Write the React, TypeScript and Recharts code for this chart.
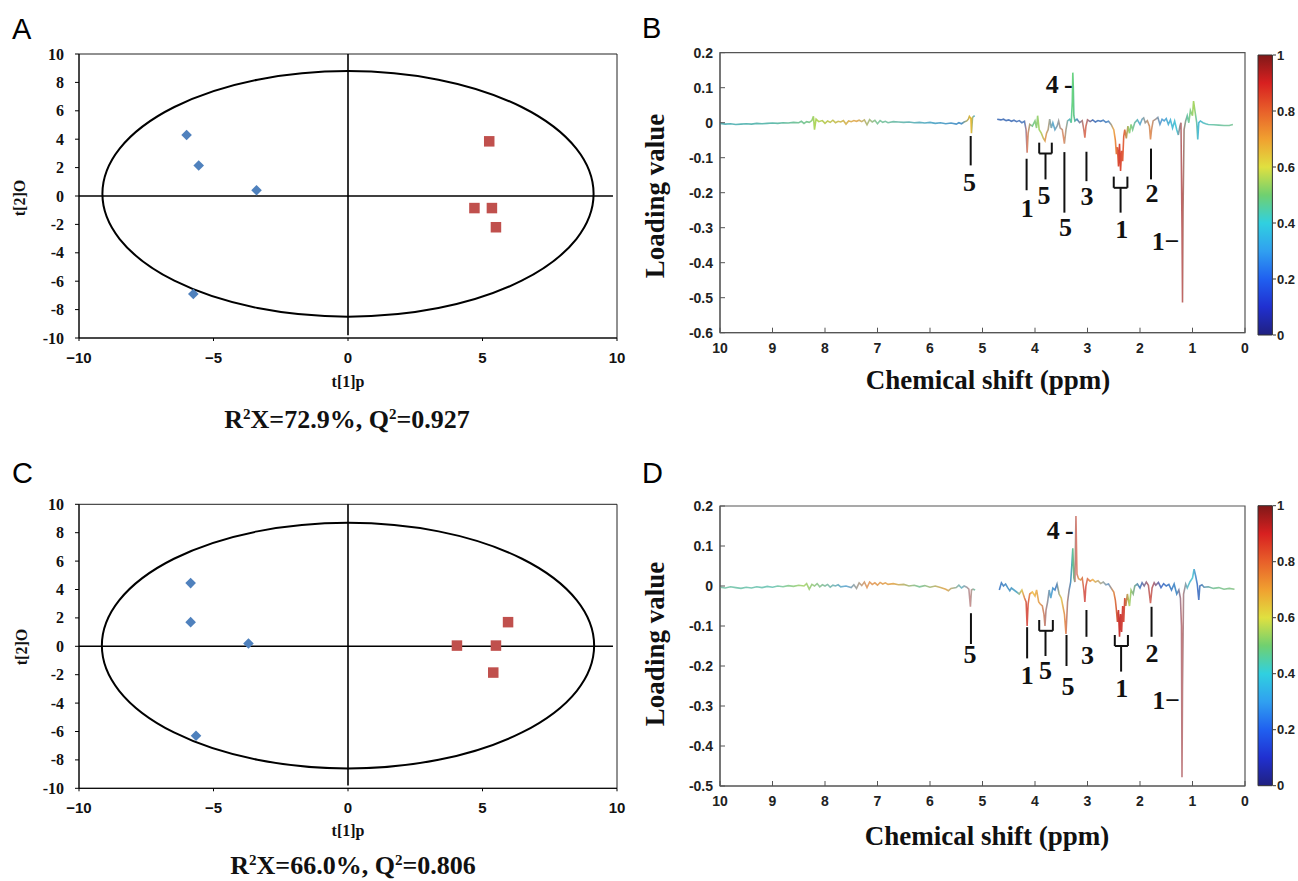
import React from 'react';
import { ComposedChart, Scatter, Line, Bar, XAxis, YAxis, ReferenceLine, ReferenceArea } from 'recharts';

const SERIF = '"Liberation Serif", "Times New Roman", serif';
const SANS = '"Liberation Sans", Arial, sans-serif';

// ---------- OPLS-DA score plots ----------
const scoresA_ctrl = [
  { x: -6.0, y: 4.3 }, { x: -5.55, y: 2.15 }, { x: -3.4, y: 0.4 }, { x: -5.75, y: -6.9 },
];
const scoresA_case = [
  { x: 5.25, y: 3.85 }, { x: 4.7, y: -0.85 }, { x: 5.35, y: -0.85 }, { x: 5.5, y: -2.2 },
];
const scoresC_ctrl = [
  { x: -5.85, y: 4.45 }, { x: -5.85, y: 1.7 }, { x: -3.7, y: 0.2 }, { x: -5.65, y: -6.3 },
];
const scoresC_case = [
  { x: 4.05, y: 0.05 }, { x: 5.5, y: 0.05 }, { x: 5.4, y: -1.85 }, { x: 5.95, y: 1.7 },
];
const ellipseA = { x1: -9.13, x2: 9.13, y1: -8.5, y2: 8.8 };
const ellipseC = { x1: -9.15, x2: 9.15, y1: -8.6, y2: 8.7 };
const scoreXTicks = [-10, -5, 0, 5, 10];
const scoreYTicks = [-10, -8, -6, -4, -2, 0, 2, 4, 6, 8, 10];

// ---------- Loading spectra ----------
const specBPoints: [number, number | null][] = [
  [10.0, -0.002], [9.9, -0.004], [9.8, -0.003], [9.7, -0.005], [9.6, -0.004], [9.5, -0.003],
  [9.4, -0.004], [9.3, -0.002], [9.2, -0.003], [9.1, -0.002], [9.0, -0.001], [8.9, -0.002],
  [8.8, 0.0], [8.7, -0.001], [8.6, 0.001], [8.5, 0.0], [8.45, 0.004], [8.4, -0.002],
  [8.35, 0.003], [8.3, 0.001], [8.25, 0.006], [8.22, 0.018], [8.2, -0.02], [8.17, 0.01],
  [8.12, 0.003], [8.05, 0.006], [8.0, -0.002], [7.95, 0.005], [7.9, 0.001], [7.85, 0.007],
  [7.8, 0.0], [7.75, 0.004], [7.7, 0.002], [7.65, 0.006], [7.6, -0.004], [7.55, 0.005],
  [7.5, 0.003], [7.45, 0.006], [7.4, 0.004], [7.35, 0.007], [7.3, 0.003], [7.25, 0.008],
  [7.2, -0.006], [7.15, 0.009], [7.1, 0.002], [7.05, 0.007], [7.0, -0.003], [6.95, 0.006],
  [6.9, 0.001], [6.85, 0.004], [6.8, 0.0], [6.7, 0.003], [6.6, 0.002], [6.5, 0.001],
  [6.4, 0.002], [6.3, 0.0], [6.2, 0.001], [6.1, -0.001], [6.0, 0.001], [5.9, -0.002],
  [5.8, 0.0], [5.7, -0.003], [5.6, -0.001], [5.5, -0.004], [5.45, 0.0], [5.4, -0.003],
  [5.35, 0.002], [5.3, 0.005], [5.27, 0.01], [5.25, 0.018], [5.22, 0.012], [5.21, -0.03],
  [5.19, 0.015], [5.15, 0.02], [4.9, null],
  [4.72, 0.01], [4.65, 0.008], [4.6, 0.01], [4.55, 0.006], [4.5, 0.008], [4.45, 0.004],
  [4.4, 0.007], [4.35, 0.003], [4.3, 0.006], [4.25, 0.0], [4.2, 0.004], [4.17, -0.02],
  [4.15, -0.086], [4.13, -0.03], [4.1, -0.005], [4.05, -0.01], [4.0, 0.005], [3.97, -0.015],
  [3.95, 0.02], [3.92, -0.02], [3.88, -0.03], [3.84, -0.045], [3.81, -0.052], [3.78, -0.03],
  [3.75, -0.02], [3.72, 0.01], [3.69, -0.015], [3.66, 0.0], [3.62, -0.02], [3.58, -0.01],
  [3.55, 0.005], [3.52, -0.015], [3.48, -0.02], [3.44, -0.06], [3.41, -0.02], [3.38, 0.005],
  [3.34, 0.01], [3.31, 0.0], [3.29, 0.06], [3.28, 0.143], [3.27, 0.1], [3.26, 0.02],
  [3.24, 0.005], [3.2, 0.01], [3.15, 0.0], [3.1, 0.006], [3.07, -0.02], [3.05, -0.043],
  [3.03, -0.01], [3.0, 0.008], [2.95, 0.003], [2.9, 0.008], [2.85, 0.002], [2.8, 0.006],
  [2.75, 0.004], [2.7, 0.007], [2.65, 0.001], [2.6, 0.004], [2.55, -0.005], [2.5, -0.02],
  [2.47, -0.05], [2.45, -0.09], [2.43, -0.07], [2.41, -0.125], [2.39, -0.06], [2.37, -0.138],
  [2.35, -0.08], [2.33, -0.11], [2.31, -0.04], [2.29, -0.02], [2.26, -0.045], [2.23, -0.01],
  [2.2, -0.03], [2.17, -0.005], [2.14, -0.02], [2.1, 0.0], [2.05, 0.008], [2.0, -0.005],
  [1.96, 0.01], [1.93, 0.014], [1.9, 0.0], [1.86, 0.006], [1.82, -0.01], [1.8, -0.048],
  [1.78, -0.02], [1.75, 0.005], [1.7, 0.01], [1.66, 0.015], [1.62, -0.005], [1.58, 0.01],
  [1.54, 0.005], [1.5, 0.012], [1.46, -0.005], [1.42, 0.008], [1.38, -0.015], [1.34, 0.005],
  [1.3, -0.02], [1.27, -0.035], [1.24, -0.01], [1.22, 0.0], [1.2, -0.3], [1.19, -0.514],
  [1.18, -0.25], [1.16, -0.02], [1.13, 0.005], [1.1, 0.02], [1.07, 0.0], [1.04, 0.035],
  [1.0, 0.02], [0.98, 0.062], [0.95, 0.03], [0.92, 0.0], [0.9, -0.048], [0.88, 0.0],
  [0.85, 0.005], [0.8, 0.0], [0.75, -0.003], [0.7, -0.005], [0.6, -0.006], [0.5, -0.007],
  [0.4, -0.008], [0.3, -0.008], [0.23, -0.005],
];

const specDPoints: [number, number | null][] = [
  [10.0, -0.003], [9.9, -0.005], [9.8, -0.002], [9.7, -0.004], [9.6, -0.006], [9.5, -0.003],
  [9.4, -0.005], [9.3, -0.002], [9.2, -0.004], [9.1, -0.001], [9.0, -0.003], [8.9, 0.0],
  [8.8, -0.002], [8.7, 0.001], [8.6, -0.001], [8.5, 0.002], [8.4, 0.0], [8.35, 0.006],
  [8.3, -0.008], [8.25, 0.004], [8.2, 0.0], [8.15, 0.006], [8.1, -0.002], [8.05, 0.003],
  [8.0, 0.0], [7.95, 0.004], [7.9, -0.003], [7.85, 0.002], [7.8, 0.0], [7.75, 0.003],
  [7.7, -0.002], [7.6, 0.0], [7.5, -0.004], [7.45, 0.003], [7.4, -0.006], [7.35, 0.008],
  [7.3, 0.001], [7.25, 0.01], [7.2, -0.004], [7.15, 0.01], [7.1, 0.004], [7.05, 0.008],
  [7.0, 0.002], [6.95, 0.009], [6.9, 0.005], [6.85, 0.008], [6.8, 0.004], [6.7, 0.006],
  [6.6, 0.003], [6.5, 0.004], [6.4, 0.0], [6.3, 0.002], [6.2, -0.002], [6.1, 0.001],
  [6.0, -0.003], [5.9, 0.0], [5.8, -0.004], [5.7, -0.008], [5.65, -0.012], [5.6, -0.006],
  [5.5, -0.004], [5.45, 0.002], [5.4, -0.005], [5.35, 0.0], [5.3, -0.003], [5.26, -0.008],
  [5.23, -0.052], [5.21, -0.01], [5.18, -0.008], [5.14, -0.01], [4.9, null],
  [4.68, -0.01], [4.64, 0.008], [4.6, 0.0], [4.56, 0.005], [4.52, -0.004], [4.48, -0.012],
  [4.45, -0.005], [4.4, -0.01], [4.35, -0.015], [4.3, -0.02], [4.25, -0.01], [4.2, -0.03],
  [4.17, -0.04], [4.15, -0.1], [4.13, -0.045], [4.1, -0.02], [4.05, -0.015], [4.0, -0.025],
  [3.97, -0.01], [3.93, -0.04], [3.9, -0.045], [3.86, -0.05], [3.83, -0.07], [3.81, -0.1],
  [3.79, -0.06], [3.76, -0.04], [3.73, -0.01], [3.7, -0.03], [3.66, -0.005], [3.62, -0.01],
  [3.58, 0.005], [3.54, -0.02], [3.5, -0.03], [3.47, -0.05], [3.44, -0.07], [3.41, -0.12],
  [3.38, -0.04], [3.35, -0.01], [3.32, 0.01], [3.3, 0.05], [3.28, 0.094], [3.26, 0.02],
  [3.24, 0.01], [3.22, 0.175], [3.2, 0.03], [3.17, 0.018], [3.13, 0.015], [3.1, 0.02],
  [3.07, -0.01], [3.05, -0.04], [3.03, 0.0], [3.0, 0.018], [2.95, 0.012], [2.9, 0.016],
  [2.85, 0.01], [2.8, 0.013], [2.75, 0.006], [2.7, 0.01], [2.65, 0.003], [2.6, 0.005],
  [2.55, -0.005], [2.5, -0.015], [2.47, -0.035], [2.45, -0.06], [2.43, -0.09], [2.41, -0.06],
  [2.39, -0.127], [2.37, -0.07], [2.35, -0.115], [2.33, -0.05], [2.31, -0.09], [2.29, -0.03],
  [2.27, -0.05], [2.24, -0.02], [2.2, -0.05], [2.17, -0.01], [2.13, -0.02], [2.1, 0.0],
  [2.05, 0.005], [2.0, -0.005], [1.96, 0.008], [1.92, 0.0], [1.88, 0.01], [1.84, 0.002],
  [1.8, -0.043], [1.77, -0.005], [1.73, 0.008], [1.7, 0.002], [1.65, 0.009], [1.6, -0.004],
  [1.55, 0.006], [1.5, 0.0], [1.45, 0.004], [1.4, -0.01], [1.35, 0.005], [1.3, -0.02],
  [1.26, -0.01], [1.23, -0.03], [1.21, -0.1], [1.2, -0.478], [1.19, -0.25], [1.17, -0.02],
  [1.13, 0.005], [1.1, -0.005], [1.05, 0.01], [1.0, 0.02], [0.97, 0.042], [0.94, 0.025],
  [0.91, 0.005], [0.88, -0.035], [0.86, 0.0], [0.82, 0.003], [0.78, -0.003], [0.7, -0.002],
  [0.6, -0.006], [0.5, -0.004], [0.4, -0.008], [0.3, -0.006], [0.2, -0.008],
];

// colour (correlation) along the chemical-shift axis
const colorsB: [number, string][] = [
  [10, '#3fa8b0'], [9, '#48b0a0'], [8.3, '#6cc080'], [8.2, '#a0d040'], [7.4, '#e0a040'],
  [7.0, '#70c090'], [6, '#40a0c0'], [5.4, '#3080c0'], [5.22, '#f0b000'], [5.15, '#30a0d0'],
  [4.7, '#3060b0'], [4.2, '#4070b8'], [4.15, '#e07050'], [4.05, '#60c080'], [3.9, '#a0d050'],
  [3.8, '#e09040'], [3.65, '#40a0d0'], [3.45, '#e08050'], [3.35, '#40b0c0'], [3.28, '#50d060'],
  [3.2, '#3080c0'], [3.05, '#e06040'], [2.9, '#3060b0'], [2.6, '#4080c0'], [2.5, '#f0a030'],
  [2.4, '#d02010'], [2.3, '#e05020'], [2.2, '#80d060'], [2.0, '#40a0d0'], [1.8, '#e08040'],
  [1.6, '#4090d0'], [1.3, '#30c0d0'], [1.2, '#c04040'], [1.1, '#50c0a0'], [0.97, '#a0d040'],
  [0.9, '#30b0d0'], [0.6, '#60c0a0'], [0.23, '#70c090'],
];
const colorsD: [number, string][] = [
  [10, '#6cc0a0'], [9, '#60c0b0'], [8.4, '#a0d060'], [7.6, '#50a0d0'], [7.2, '#e09050'],
  [6.7, '#e0a040'], [6.2, '#70c090'], [5.7, '#e0a040'], [5.4, '#60b0c0'], [5.23, '#c08080'],
  [5.14, '#60c0a0'], [4.68, '#3070c0'], [4.35, '#40a0c0'], [4.25, '#e0c040'], [4.15, '#d03030'],
  [4.05, '#f0c040'], [3.9, '#e09040'], [3.81, '#c07060'], [3.7, '#40a0d0'], [3.6, '#3070c0'],
  [3.5, '#e0c040'], [3.41, '#e07040'], [3.32, '#3080c0'], [3.28, '#40c080'], [3.22, '#d06060'],
  [3.15, '#e0a040'], [3.05, '#d04040'], [2.9, '#f0b040'], [2.6, '#6090c0'], [2.5, '#e08030'],
  [2.4, '#c01010'], [2.3, '#d03020'], [2.2, '#a0d050'], [2.0, '#3070c0'], [1.8, '#d05040'],
  [1.6, '#3060c0'], [1.3, '#3080c0'], [1.2, '#c06060'], [1.1, '#50b0c0'], [1.0, '#40c0d0'],
  [0.9, '#3060c0'], [0.6, '#70c090'], [0.2, '#80c080'],
];

const ppmTicks = [10, 9, 8, 7, 6, 5, 4, 3, 2, 1, 0];
const loadTicksB = [-0.6, -0.5, -0.4, -0.3, -0.2, -0.1, 0, 0.1, 0.2];
const loadTicksD = [-0.5, -0.4, -0.3, -0.2, -0.1, 0, 0.1, 0.2];
const colorbarTicks = [0, 0.2, 0.4, 0.6, 0.8, 1];
const colorbarBar = [{ c: 'scale', top: 1 }];

// annotation marks (data units)
const marksB = [
  { x: 5.225, from: -0.038, to: -0.122 },
  { x: 4.16, from: -0.103, to: -0.193 },
  { x: 3.44, from: -0.084, to: -0.257 },
  { x: 3.02, from: -0.083, to: -0.167 },
  { x: 1.79, from: -0.074, to: -0.162 },
];
const bracketsB = [
  { left: 3.92, right: 3.68, top: -0.057, bottom: -0.088, stem: 3.8, stemTo: -0.162 },
  { left: 2.5, right: 2.24, top: -0.154, bottom: -0.186, stem: 2.37, stemTo: -0.257 },
];
const labelsB = [
  { ppm: 5.25, v: -0.17, t: '5' }, { ppm: 4.15, v: -0.246, t: '1' }, { ppm: 3.83, v: -0.208, t: '5' },
  { ppm: 3.42, v: -0.298, t: '5' }, { ppm: 3.01, v: -0.21, t: '3' }, { ppm: 2.35, v: -0.305, t: '1' },
  { ppm: 1.77, v: -0.203, t: '2' }, { ppm: 1.51, v: -0.338, t: '1\u2212' }, { ppm: 3.54, v: 0.109, t: '4\u2009-' },
];
const marksD = [
  { x: 5.22, from: -0.068, to: -0.145 },
  { x: 4.15, from: -0.103, to: -0.181 },
  { x: 3.4, from: -0.1225, to: -0.2 },
  { x: 3.02, from: -0.06, to: -0.127 },
  { x: 1.78, from: -0.052, to: -0.127 },
];
const bracketsD = [
  { left: 3.92, right: 3.66, top: -0.085, bottom: -0.112, stem: 3.8, stemTo: -0.175 },
  { left: 2.48, right: 2.23, top: -0.1225, bottom: -0.15, stem: 2.36, stemTo: -0.214 },
];
const labelsD = [
  { ppm: 5.24, v: -0.172, t: '5' }, { ppm: 4.15, v: -0.2225, t: '1' }, { ppm: 3.8, v: -0.21, t: '5' },
  { ppm: 3.37, v: -0.252, t: '5' }, { ppm: 3.0, v: -0.1725, t: '3' }, { ppm: 2.35, v: -0.256, t: '1' },
  { ppm: 1.77, v: -0.168, t: '2' }, { ppm: 1.5, v: -0.285, t: '1\u2212' }, { ppm: 3.52, v: 0.14, t: '4\u2009-' },
];

const jetStops: [number, string][] = [
  [0, '#202080'], [0.1, '#2030d0'], [0.2, '#2060f0'], [0.3, '#30a0f0'], [0.4, '#30d0e0'],
  [0.5, '#70d070'], [0.6, '#e0e040'], [0.7, '#f0a030'], [0.8, '#e8602a'], [0.9, '#d82020'], [1, '#801818'],
];

const specB = specBPoints.map(([ppm, v]) => ({ ppm, v }));
const specD = specDPoints.map(([ppm, v]) => ({ ppm, v }));

// ---------- shapes & ticks ----------
const Diamond = (p: any) => {
  const { cx, cy } = p;
  const r = 5.3;
  return <polygon points={`${cx},${cy - r} ${cx + r},${cy} ${cx},${cy + r} ${cx - r},${cy}`} fill="#4F81BD" />;
};
const Square = (p: any) => {
  const { cx, cy } = p;
  const s = 10.5;
  return <rect x={cx - s / 2} y={cy - s / 2} width={s} height={s} fill="#C0504D" />;
};
const LabelText = (p: any) => (
  <text x={p.cx} y={p.cy} textAnchor="middle" dominantBaseline="central"
    fontFamily={SERIF} fontWeight="bold" fontSize={26} fill="#111">{p.payload.t}</text>
);
const EllipseShape = (p: any) => (
  <ellipse cx={p.x + p.width / 2} cy={p.y + p.height / 2} rx={Math.abs(p.width) / 2} ry={Math.abs(p.height) / 2}
    fill="none" stroke="#000" strokeWidth={2} />
);

const minusFmt = (v: number) => (v < 0 ? '\u2212' + Math.abs(v) : String(v));

const makeXTick = (family: string, size: number, fmt: (v: number) => string, color: string) => (p: any) => (
  <text x={p.x} y={p.y} dy="0.72em" textAnchor="middle" fontFamily={family} fontSize={size}
    fontWeight="bold" fill={color}>{fmt(p.payload.value)}</text>
);
const makeYTick = (family: string, size: number, anchor: string, color: string) => (p: any) => (
  <text x={p.x} y={p.y} dominantBaseline="central" textAnchor={anchor} fontFamily={family} fontSize={size}
    fontWeight="bold" fill={color}>{String(p.payload.value)}</text>
);
const ScoreXTick = makeXTick(SANS, 15, minusFmt, '#111');
const ScoreYTick = makeYTick(SERIF, 16, 'end', '#111');
const SpecXTick = makeXTick(SANS, 14, (v) => String(v), '#222');
const SpecYTick = makeYTick(SANS, 14, 'end', '#222');
const BarYTick = makeYTick(SANS, 13, 'start', '#222');

function ScorePanel({ ctrl, cases, ell, top, height, mTop, mBottom }: any) {
  return (
    <div style={{ position: 'absolute', left: 0, top, width: 640, height }}>
      <ComposedChart width={640} height={height} margin={{ top: mTop, right: 23, bottom: mBottom, left: 29 }}>
        <XAxis type="number" dataKey="x" domain={[-10, 10]} ticks={scoreXTicks} interval={0}
          stroke="#000" tickSize={3} tickMargin={11} height={30} tick={ScoreXTick} allowDataOverflow />
        <YAxis type="number" dataKey="y" domain={[-10, 10]} ticks={scoreYTicks} interval={0}
          stroke="#000" tickSize={4} tickMargin={11} width={50} tick={ScoreYTick} allowDataOverflow />
        <ReferenceArea x1={-10} x2={10} y1={-10} y2={10} fill="none" fillOpacity={0} stroke="#222" strokeWidth={1} ifOverflow="visible" />
        <ReferenceLine segment={[{ x: 0, y: 10 }, { x: 0, y: -9.8 }]} stroke="#000" strokeWidth={1.6} ifOverflow="visible" />
        <ReferenceLine segment={[{ x: -10, y: 0 }, { x: 9.85, y: 0 }]} stroke="#000" strokeWidth={1.6} ifOverflow="visible" />
        <ReferenceArea x1={ell.x1} x2={ell.x2} y1={ell.y1} y2={ell.y2} shape={EllipseShape} ifOverflow="visible" />
        <Scatter data={ctrl} dataKey="y" shape={Diamond} isAnimationActive={false} />
        <Scatter data={cases} dataKey="y" shape={Square} isAnimationActive={false} />
      </ComposedChart>
    </div>
  );
}

function SpectrumPanel({ data, gradId, ticks, domain, marks, brackets, labels, top, height, mTop, mBottom }: any) {
  const segs: any[] = [];
  marks.forEach((m: any) => segs.push([{ x: m.x, y: m.from }, { x: m.x, y: m.to }]));
  brackets.forEach((b: any) => {
    segs.push([{ x: b.left, y: b.top }, { x: b.left, y: b.bottom }]);
    segs.push([{ x: b.right, y: b.top }, { x: b.right, y: b.bottom }]);
    segs.push([{ x: b.left, y: b.bottom }, { x: b.right, y: b.bottom }]);
    segs.push([{ x: b.stem, y: b.bottom }, { x: b.stem, y: b.stemTo }]);
  });
  return (
    <div style={{ position: 'absolute', left: 640, top, width: 610, height }}>
      <ComposedChart width={610} height={height} margin={{ top: mTop, right: 5, bottom: mBottom, left: 20 }}>
        <XAxis type="number" dataKey="ppm" domain={[0, 10]} reversed ticks={ppmTicks} interval={0}
          stroke="#555" tickSize={-5} tickMargin={15} height={30} tick={SpecXTick} allowDataOverflow />
        <YAxis type="number" dataKey="v" domain={domain} ticks={ticks} interval={0}
          stroke="#555" tickSize={-5} tickMargin={12} width={60} tick={SpecYTick} allowDataOverflow />
        <ReferenceArea x1={10} x2={0} y1={domain[0]} y2={domain[1]} fill="none" fillOpacity={0} stroke="#555" strokeWidth={1.2} ifOverflow="visible" />
        <Line data={data} dataKey="v" stroke={`url(#${gradId})`} strokeWidth={1.6} strokeOpacity={0.85}
          dot={false} activeDot={false} type="linear" connectNulls={false} isAnimationActive={false} />
        {segs.map((s, i) => (
          <ReferenceLine key={i} segment={s} stroke="#111" strokeWidth={2} ifOverflow="visible" />
        ))}
        <Scatter data={labels} dataKey="v" shape={LabelText} isAnimationActive={false} />
      </ComposedChart>
    </div>
  );
}

function ColorBar({ top, mTop }: any) {
  return (
    <div style={{ position: 'absolute', left: 1250, top, width: 48, height: mTop + 290 }}>
      <ComposedChart width={48} height={mTop + 290} data={colorbarBar}
        margin={{ top: mTop, right: 0, bottom: 10, left: 7 }} barCategoryGap={0}>
        <XAxis type="category" dataKey="c" hide />
        <YAxis type="number" orientation="right" domain={[0, 1]} ticks={colorbarTicks} interval={0}
          width={25} stroke="#333" tickSize={3} tickMargin={1} axisLine={false} tick={BarYTick} />
        <Bar dataKey="top" fill="url(#jetGrad)" stroke="#333" strokeWidth={1} barSize={16} isAnimationActive={false} />
      </ComposedChart>
    </div>
  );
}

function gradStops(colors: [number, string][], start: number, end: number) {
  return colors.map(([ppm, c], i) => (
    <stop key={i} offset={`${(((start - ppm) / (start - end)) * 100).toFixed(2)}%`} stopColor={c} />
  ));
}

export default function App() {
  return (
    <div style={{ position: 'absolute', left: 0, top: 0, width: 1298, height: 881, background: '#fff', overflow: 'hidden' }}>
      <svg width={0} height={0} style={{ position: 'absolute' }}>
        <defs>
          <linearGradient id="gradB" x1="0" y1="0" x2="1" y2="0">
            {gradStops(colorsB, specBPoints[0][0], specBPoints[specBPoints.length - 1][0])}
          </linearGradient>
          <linearGradient id="gradD" x1="0" y1="0" x2="1" y2="0">
            {gradStops(colorsD, specDPoints[0][0], specDPoints[specDPoints.length - 1][0])}
          </linearGradient>
          <linearGradient id="jetGrad" x1="0" y1="1" x2="0" y2="0">
            {jetStops.map(([o, c], i) => <stop key={i} offset={`${o * 100}%`} stopColor={c} />)}
          </linearGradient>
        </defs>
      </svg>

      <ScorePanel ctrl={scoresA_ctrl} cases={scoresA_case} ell={ellipseA} top={0} height={440} mTop={54} mBottom={72} />
      <ScorePanel ctrl={scoresC_ctrl} cases={scoresC_case} ell={ellipseC} top={440} height={441} mTop={64.3} mBottom={62.7} />

      <SpectrumPanel data={specB} gradId="gradB" ticks={loadTicksB} domain={[-0.6, 0.2]} marks={marksB}
        brackets={bracketsB} labels={labelsB} top={0} height={440} mTop={52.7} mBottom={77.3} />
      <SpectrumPanel data={specD} gradId="gradD" ticks={loadTicksD} domain={[-0.5, 0.2]} marks={marksD}
        brackets={bracketsD} labels={labelsD} top={440} height={441} mTop={66} mBottom={65} />

      <ColorBar top={0} mTop={55} />
      <ColorBar top={440} mTop={65.7} />

      <svg width={1298} height={881} style={{ position: 'absolute', left: 0, top: 0, pointerEvents: 'none' }}>
        <g fontFamily={SANS} fontSize={29} fill="#000">
          <text x={12} y={39}>A</text>
          <text x={642} y={38}>B</text>
          <text x={12} y={483}>C</text>
          <text x={642} y={483}>D</text>
        </g>
        <g fontFamily={SERIF} fontWeight="bold" fill="#111">
          <text x={348} y={387} fontSize={16} textAnchor="middle">t[1]p</text>
          <text x={348} y={836} fontSize={16} textAnchor="middle">t[1]p</text>
          <text transform="translate(19,198) rotate(-90)" fontSize={16} textAnchor="middle" dominantBaseline="central">t[2]O</text>
          <text transform="translate(21,647) rotate(-90)" fontSize={16} textAnchor="middle" dominantBaseline="central">t[2]O</text>
          <text x={347} y={428} fontSize={26} textAnchor="middle">
            R<tspan fontSize={15} dy={-9}>2</tspan><tspan dy={9}>X=72.9%, Q</tspan><tspan fontSize={15} dy={-9}>2</tspan><tspan dy={9}>=0.927</tspan>
          </text>
          <text x={353} y={874} fontSize={26} textAnchor="middle">
            R<tspan fontSize={15} dy={-9}>2</tspan><tspan dy={9}>X=66.0%, Q</tspan><tspan fontSize={15} dy={-9}>2</tspan><tspan dy={9}>=0.806</tspan>
          </text>
          <text transform="translate(655,196) rotate(-90)" fontSize={27} textAnchor="middle" dominantBaseline="central">Loading value</text>
          <text transform="translate(655,644) rotate(-90)" fontSize={27} textAnchor="middle" dominantBaseline="central">Loading value</text>
          <text x={988} y={389} fontSize={27} textAnchor="middle">Chemical shift (ppm)</text>
          <text x={987} y={845} fontSize={27} textAnchor="middle">Chemical shift (ppm)</text>
        </g>
      </svg>
    </div>
  );
}
